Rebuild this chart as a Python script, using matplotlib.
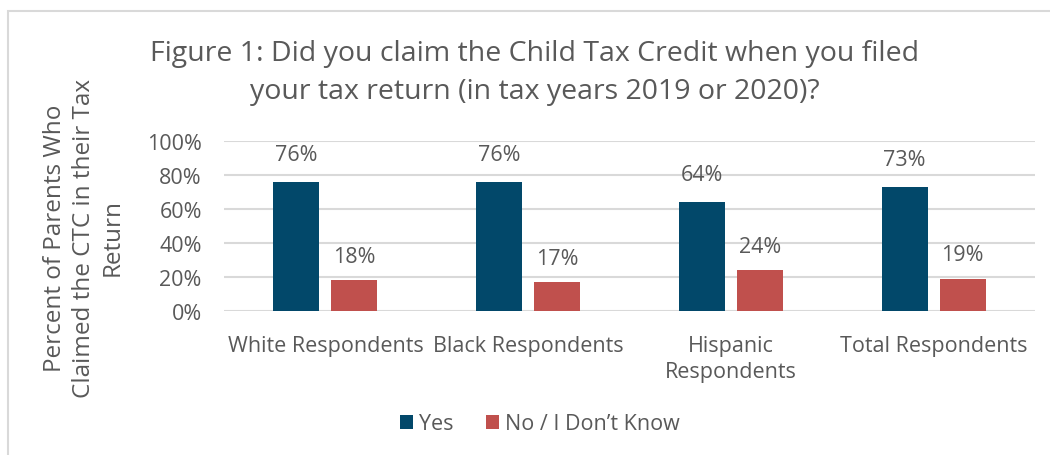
import matplotlib.pyplot as plt
import matplotlib.patches as mpatches
import numpy as np

categories = ['White Respondents', 'Black Respondents', 'Hispanic\nRespondents', 'Total Respondents']
yes_vals = [76, 76, 64, 73]
no_vals = [18, 17, 24, 19]
yes_labels = ['76%', '76%', '64%', '73%']
no_labels = ['18%', '17%', '24%', '19%']
yticks = [0, 20, 40, 60, 80, 100]

yes_color = '#02486a'
no_color = '#c0504d'
txt = '#595959'
grid_c = '#d9d9d9'

plt.rcParams['font.family'] = ['Open Sans', 'DejaVu Sans']

fig = plt.figure(figsize=(10.5, 4.56), dpi=100)
ax = fig.add_axes([224/1050, 1-312/456, (1035-224)/1050, 170/456])

x = np.arange(len(categories))
w = 0.226
off = 0.143
b1 = ax.bar(x - off, yes_vals, w, color=yes_color, zorder=3, label='Yes')
b2 = ax.bar(x + off, no_vals, w, color=no_color, zorder=3, label='No / I Don\u2019t Know')

for rect, lab in zip(b1, yes_labels):
    ax.text(rect.get_x() + rect.get_width()/2, rect.get_height() + 16, lab,
            ha='center', va='center', fontsize=15.5, color=txt)
for rect, lab in zip(b2, no_labels):
    ax.text(rect.get_x() + rect.get_width()/2, rect.get_height() + 14, lab,
            ha='center', va='center', fontsize=15.5, color=txt)

ax.set_xlim(-0.5, len(categories) - 0.5)
ax.set_ylim(0, 100)
ax.set_yticks(yticks)
ax.set_yticklabels([f'{t}%' for t in yticks])
ax.set_xticks(x)
ax.set_xticklabels(categories, linespacing=1.35)
ax.tick_params(axis='both', length=0, labelsize=15.5, labelcolor=txt)
ax.tick_params(axis='y', pad=16)
ax.tick_params(axis='x', pad=17)
for s in ax.spines.values():
    s.set_visible(False)
ax.yaxis.grid(True, color=grid_c, linewidth=1.5, zorder=0)

fig.text(84/1050, 1-238/456, 'Percent of Parents Who\nClaimed the CTC in their Tax\nReturn',
         rotation=90, ha='center', va='center', fontsize=17.5, color=txt, linespacing=1.25)

fig.text(535/1050, 1-73/456, 'Figure 1: Did you claim the Child Tax Credit when you filed\nyour tax return (in tax years 2019 or 2020)?',
         ha='center', va='center', fontsize=20.5, color=txt, linespacing=1.5)

fig.legend(handles=[b1, b2], loc='center', bbox_to_anchor=(540/1050, 1-425/456),
           ncol=2, frameon=False, fontsize=15.5, labelcolor=txt,
           handlelength=0.6, handleheight=0.6, columnspacing=1.5, handletextpad=0.3)

border = mpatches.Rectangle((8/1050, -0.1), 1.1, 1-12/456+0.1, transform=fig.transFigure,
                            fill=False, edgecolor=grid_c, linewidth=1.5)
fig.patches.append(border)

fig.savefig('out.png', dpi=100)
